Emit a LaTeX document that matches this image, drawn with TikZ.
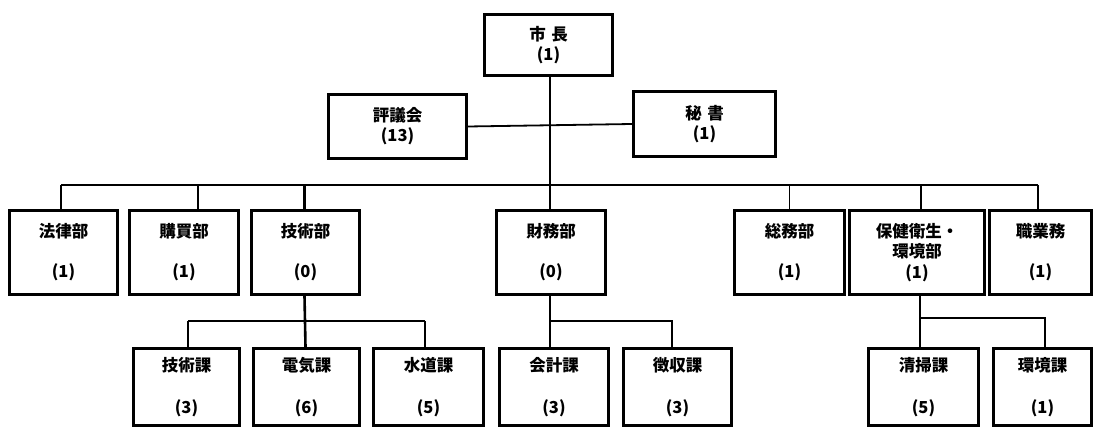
\documentclass[tikz,border=0pt]{standalone}
\usepackage{fontspec}
\setmainfont{Noto Sans CJK JP}
\begin{document}
\begin{tikzpicture}[x=1pt,y=-1pt,
  bx/.style n args={2}{draw, line width=3pt, inner sep=0pt, anchor=north west,
    align=center, minimum width=#1, minimum height=#2,
    font=\fontsize{16.5}{20}\selectfont\bfseries},
  ln/.style={line width=1.8pt},
  tk/.style={line width=2.6pt}]
\useasboundingbox (0,0) rectangle (1094,427);
% top
\node[bx={128pt}{61pt}] (mayor) at (483,13) {市\,\,長\\(1)};
\node[bx={138pt}{64pt}] (council) at (327,93) {評議会\\(13)};
\node[bx={142pt}{65pt}] (secretary) at (632,90) {秘\,\,書\\(1)};
% row 2
\node[bx={108pt}{84pt}] (law) at (8,209) {法律部\\[20pt](1)};
\node[bx={109pt}{84pt}] (purch) at (128,209) {購買部\\[20pt](1)};
\node[bx={108pt}{84pt}] (tech) at (250,209) {技術部\\[20pt](0)};
\node[bx={109pt}{84pt}] (fin) at (495,209) {財務部\\[20pt](0)};
\node[bx={110pt}{84pt}] (gen) at (733,209) {総務部\\[20pt](1)};
\node[bx={135pt}{84pt}] (health) at (848,209) {保健衛生・\\環境部\\[1pt](1)};
\node[bx={102pt}{84pt}] (job) at (988,209) {職業務\\[20pt](1)};
% row 3
\node[bx={106pt}{77pt}] (techs) at (132,347) {技術課\\[22pt](3)};
\node[bx={106pt}{77pt}] (elec) at (252,347) {電気課\\[22pt](6)};
\node[bx={110pt}{77pt}] (water) at (372,347) {水道課\\[22pt](5)};
\node[bx={109pt}{77pt}] (acct) at (498,347) {会計課\\[22pt](3)};
\node[bx={108pt}{77pt}] (coll) at (622,347) {徴収課\\[22pt](3)};
\node[bx={110pt}{77pt}] (clean) at (867,347) {清掃課\\[22pt](5)};
\node[bx={98pt}{77pt}] (env) at (992,347) {環境課\\[22pt](1)};
% connectors
\coordinate (trunk) at (550,0);
\draw[tk] (trunk |- mayor.south) -- (trunk |- fin.north);
\draw[ln] (council.east) -- (secretary.west);
\coordinate (busL) at (61,185);
\coordinate (busR) at (1038,185);
\draw[ln] (busL) -- (busR);
\draw[ln] (busL) -- (busL |- law.north);
\draw[ln] ([xshift=14pt]purch.north |- busL) -- ([xshift=14pt]purch.north);
\draw[tk] ([xshift=-1pt]tech.north |- busL) -- ([xshift=-1pt]tech.north);
\draw[ln] (gen.north |- busL) -- (gen.north);
\draw[ln] ([xshift=4pt]health.north |- busL) -- ([xshift=4pt]health.north);
\draw[ln] (busR) -- (busR |- job.north);
% tech sub
\coordinate (tb) at (303,321);
\draw[tk] ([xshift=-1pt]tech.south) -- ([xshift=-1pt]elec.north);
\draw[ln] (188,0 |- tb) coordinate (tbL) -- (425,0 |- tb) coordinate (tbR);
\draw[tk] (tbL) -- (tbL |- techs.north);
\draw[ln] (tbR) -- (tbR |- water.north);
% finance sub
\coordinate (fb) at (672,321);
\draw[tk] (trunk |- fin.south) -- (trunk |- acct.north);
\draw[ln] (trunk |- fb) -- (fb) -- (fb |- coll.north);
% health sub
\coordinate (hb) at (920,318);
\coordinate (hbR) at (1045,318);
\draw[tk] (hb |- health.south) -- (hb |- clean.north);
\draw[ln] (hb) -- (hbR) -- (hbR |- env.north);
\end{tikzpicture}
\end{document}
